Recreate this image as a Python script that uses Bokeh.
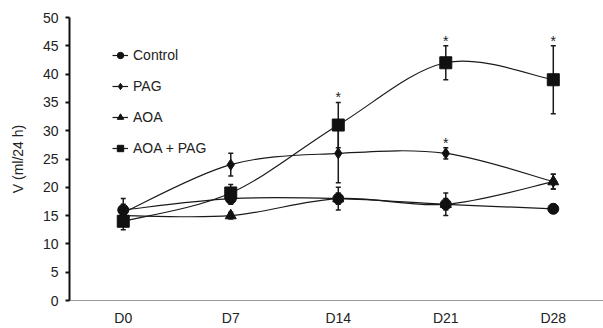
from bokeh.plotting import figure
from bokeh.models import ColumnDataSource, Whisker, Legend, LegendItem, FixedTicker, TeeHead
from bokeh.embed import file_html
from bokeh.resources import INLINE
from bokeh.core.properties import value

days = ["D0", "D7", "D14", "D21", "D28"]
control = [16.0, 18.0, 18.0, 17.0, 16.2]
control_err = [2.0, 1.0, 2.0, 2.0, 0.8]
pag = [15.5, 24.0, 26.0, 26.0, 21.0]
pag_err = [1.5, 2.0, 5.2, 1.0, 1.3]
aoa = [15.0, 15.0, 18.0, 17.0, 21.0]
aoa_err = [1.5, 0.6, 1.0, 1.0, 1.3]
aoapag = [14.0, 19.0, 31.0, 42.0, 39.0]
aoapag_err = [1.5, 1.5, 4.0, 3.0, 6.0]
labels = ["Control", "PAG", "AOA", "AOA + PAG"]
# significance marks: (series index, day index)
stars = [(3, 2), (3, 3), (3, 4), (1, 3)]
yticks = [0, 5, 10, 15, 20, 25, 30, 35, 40, 45, 50]

FONT = "Liberation Sans"
FS = "14px"
series = [control, pag, aoa, aoapag]
errs = [control_err, pag_err, aoa_err, aoapag_err]
markers = ["circle", "diamond", "triangle", "square"]
msizes = [11, 11, 11, 12]

p = figure(width=603, height=328, output_backend="svg", toolbar_location=None,
           x_range=(-0.5, 4.467), y_range=(0, 50),
           min_border_left=69, min_border_right=0, min_border_top=17, min_border_bottom=27)
p.outline_line_color = None
p.grid.grid_line_color = None
p.background_fill_color = "white"
p.border_fill_color = "white"

xs = list(range(len(days)))


def smooth(ys):
    # cubic bezier segments (Catmull-Rom style smoothing through the data points)
    n = len(ys)
    x0, y0, x1, y1, cx0, cy0, cx1, cy1 = [], [], [], [], [], [], [], []
    for i in range(n - 1):
        im = max(i - 1, 0)
        ip2 = min(i + 2, n - 1)
        x0.append(xs[i]); y0.append(ys[i])
        x1.append(xs[i + 1]); y1.append(ys[i + 1])
        cx0.append(xs[i] + (xs[i + 1] - xs[im]) / 6.0)
        cy0.append(ys[i] + (ys[i + 1] - ys[im]) / 6.0)
        cx1.append(xs[i + 1] - (xs[ip2] - xs[i]) / 6.0)
        cy1.append(ys[i + 1] - (ys[ip2] - ys[i]) / 6.0)
    return dict(x0=x0, y0=y0, x1=x1, y1=y1, cx0=cx0, cy0=cy0, cx1=cx1, cy1=cy1)


items = []
for k, (ys, es) in enumerate(zip(series, errs)):
    br = p.bezier(source=ColumnDataSource(smooth(ys)), x0="x0", y0="y0", x1="x1", y1="y1",
                  cx0="cx0", cy0="cy0", cx1="cx1", cy1="cy1", line_color="#1a1a1a", line_width=1.2)
    src = ColumnDataSource(dict(x=xs, y=ys, lo=[a - b for a, b in zip(ys, es)],
                                hi=[a + b for a, b in zip(ys, es)]))
    w = Whisker(source=src, base="x", lower="lo", upper="hi", line_color="#1a1a1a", line_width=1.5,
                upper_head=TeeHead(size=5, line_color="#1a1a1a", line_width=1.5),
                lower_head=TeeHead(size=5, line_color="#1a1a1a", line_width=1.5))
    p.add_layout(w)
    sr = p.scatter("x", "y", source=src, marker=markers[k], size=msizes[k], color="#111111")
    items.append(LegendItem(label=labels[k], renderers=[br, sr], index=0))

sx = [xs[d] for s, d in stars]
sy = [series[s][d] + errs[s][d] for s, d in stars]
p.text(x=sx, y=sy, text=["*"] * len(sx), text_align="center", text_baseline="bottom",
       y_offset=3, text_font=value(FONT), text_font_size="14px", text_color="#222222")

legend = Legend(items=items, location=(43, 142), border_line_color=None,
                background_fill_alpha=0, padding=0, margin=0, spacing=11,
                glyph_width=16, glyph_height=20, label_height=20, label_standoff=5,
                label_text_font=FONT, label_text_font_size=FS, label_text_color="#222222")
p.add_layout(legend, "center")

p.yaxis.ticker = FixedTicker(ticks=yticks)
p.yaxis.axis_line_color = "#111111"
p.yaxis.axis_line_width = 2
p.yaxis.major_tick_line_color = "#111111"
p.yaxis.major_tick_line_width = 2
p.yaxis.major_tick_out = 4
p.yaxis.major_tick_in = 0
p.yaxis.minor_tick_line_color = None
p.yaxis.major_label_standoff = 7
p.yaxis.axis_label = "V (ml/24 h)"
p.yaxis.axis_label_standoff = 14
p.yaxis.axis_label_text_font = FONT
p.yaxis.axis_label_text_font_style = "normal"
p.yaxis.axis_label_text_font_size = FS
p.yaxis.axis_label_text_color = "#222222"
p.yaxis.major_label_text_font = FONT
p.yaxis.major_label_text_font_size = FS
p.yaxis.major_label_text_color = "#222222"

p.xaxis.ticker = FixedTicker(ticks=xs)
p.xaxis.major_label_overrides = {i: d for i, d in enumerate(days)}
p.xaxis.axis_line_color = "#9a9a9a"
p.xaxis.axis_line_width = 1
p.xaxis.major_tick_line_color = None
p.xaxis.major_tick_out = 0
p.xaxis.major_tick_in = 0
p.xaxis.minor_tick_line_color = None
p.xaxis.major_label_standoff = 9
p.xaxis.major_label_text_font = FONT
p.xaxis.major_label_text_font_size = FS
p.xaxis.major_label_text_color = "#222222"

open("out.html", "w").write(file_html(p, INLINE))
